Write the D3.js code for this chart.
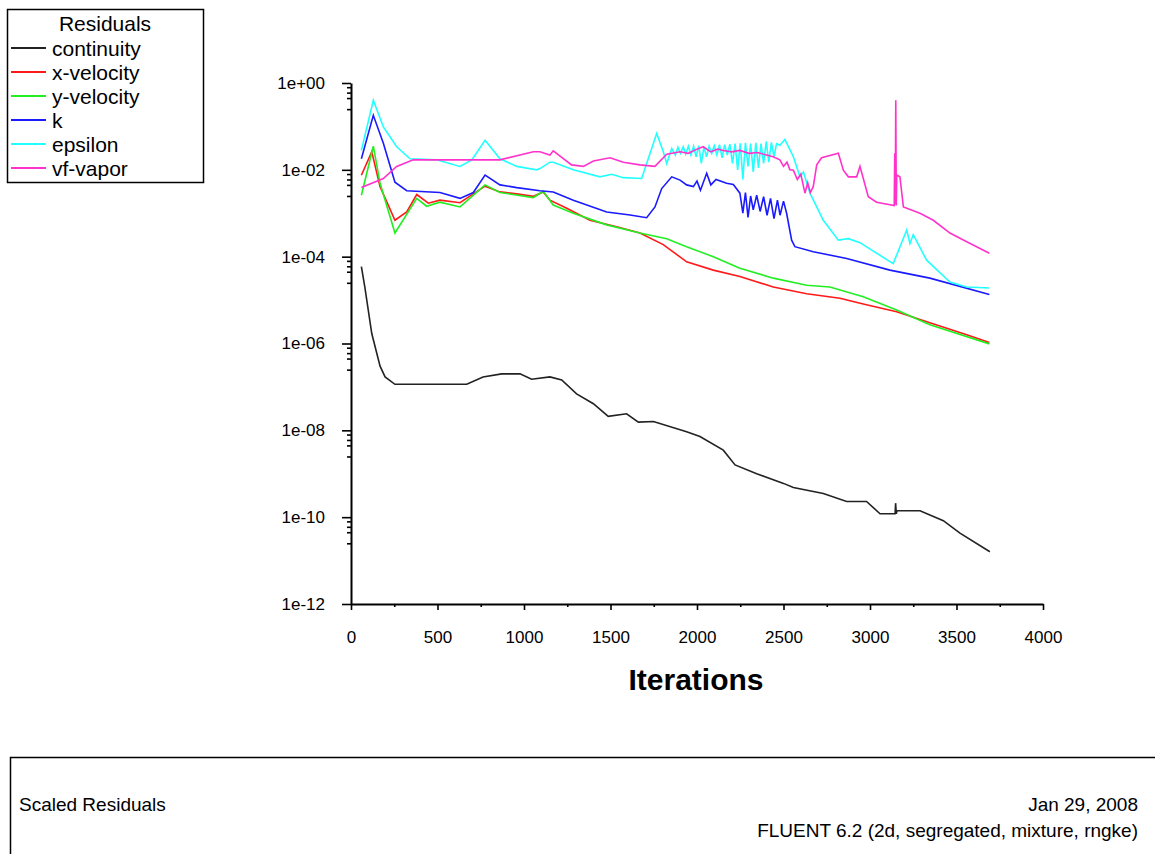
<!DOCTYPE html>
<html lang="en">
<head>
<meta charset="UTF-8" />
<title>Scaled Residuals</title>
<style>
  body { margin: 0; background: #fff; }
  svg { display: block; font-family: "Liberation Sans", Arial, sans-serif; }
</style>
</head>
<body>
<script src="https://cdn.jsdelivr.net/npm/d3@7"></script>
<div id="app"></div>
<script>
// ---- data: [iteration, scaled residual] ----
const continuity = [
  [60, 5.9e-5], [80, 2.0e-5], [120, 1.7e-6], [168, 3.0e-7], [197, 1.7e-7], [254, 1.15e-7],
  [669, 1.15e-7], [763, 1.7e-7], [871, 2.0e-7], [977, 2.0e-7], [1044, 1.5e-7], [1150, 1.7e-7],
  [1218, 1.45e-7], [1304, 6.9e-8], [1401, 4.1e-8], [1487, 2.1e-8], [1593, 2.4e-8], [1661, 1.55e-8],
  [1748, 1.6e-8], [1940, 9.3e-9], [2017, 7.2e-9], [2152, 3.5e-9], [2220, 1.6e-9], [2345, 1.0e-9],
  [2500, 6.0e-10], [2557, 4.8e-10], [2730, 3.5e-10], [2865, 2.3e-10], [2980, 2.3e-10], [3058, 1.2e-10],
  [3145, 1.2e-10], [3148, 2.1e-10], [3152, 1.2e-10], [3156, 1.4e-10], [3289, 1.4e-10], [3424, 8.3e-11],
  [3520, 4.3e-11], [3693, 1.6e-11]
];
const xVelocity = [
  [60, 7.5e-3], [120, 2.6e-2], [168, 4.1e-3], [254, 6.9e-4], [322, 1.07e-3], [380, 2.7e-3],
  [447, 1.7e-3], [514, 2.0e-3], [630, 1.75e-3], [775, 4.2e-3], [861, 3.1e-3], [958, 2.8e-3],
  [1054, 2.45e-3], [1111, 3.1e-3], [1150, 2.0e-3], [1247, 1.3e-3], [1381, 6.9e-4], [1536, 4.9e-4],
  [1670, 3.5e-4], [1805, 1.9e-4], [1940, 7.6e-5], [2094, 4.9e-5], [2248, 3.5e-5], [2441, 2.0e-5],
  [2634, 1.4e-5], [2826, 1.1e-5], [2961, 8.1e-6], [3154, 5.4e-6], [3346, 3.0e-6], [3559, 1.6e-6],
  [3690, 1.05e-6]
];
const yVelocity = [
  [60, 2.6e-3], [129, 3.5e-2], [168, 4.9e-3], [254, 3.5e-4], [380, 2.2e-3], [437, 1.45e-3],
  [514, 1.8e-3], [630, 1.4e-3], [775, 4.5e-3], [861, 3.0e-3], [1054, 2.3e-3], [1111, 3.2e-3],
  [1169, 1.55e-3], [1285, 1.0e-3], [1478, 5.4e-4], [1670, 3.5e-4], [1825, 2.6e-4], [1940, 1.7e-4],
  [2094, 1.0e-4], [2248, 5.4e-5], [2441, 3.2e-5], [2634, 2.2e-5], [2768, 2.0e-5], [2961, 1.2e-5],
  [3154, 5.9e-6], [3346, 2.7e-6], [3690, 9.8e-7]
];
const kRes = [
  [60, 1.8e-2], [129, 1.8e-1], [187, 4.1e-2], [254, 5.2e-3], [322, 3.3e-3], [514, 3.0e-3],
  [630, 2.2e-3], [707, 3.0e-3], [775, 7.6e-3], [861, 4.5e-3], [958, 3.9e-3], [1092, 3.3e-3],
  [1169, 3.1e-3], [1285, 2.0e-3], [1478, 1.07e-3], [1613, 9.1e-4], [1709, 7.9e-4], [1757, 1.4e-3],
  [1796, 3.7e-3], [1854, 6.9e-3], [1902, 5.8e-3], [1940, 4.5e-3], [1979, 4.1e-3], [2000, 5.5e-3],
  [2020, 3.4e-3], [2056, 8.3e-3], [2080, 4.5e-3], [2110, 6.0e-3], [2171, 4.9e-3], [2210, 4.6e-3],
  [2248, 2.9e-3], [2265, 1.0e-3], [2280, 3.0e-3], [2295, 8.0e-4], [2310, 2.5e-3], [2325, 1.2e-3],
  [2345, 2.6e-3], [2365, 1.1e-3], [2385, 2.4e-3], [2405, 9.0e-4], [2425, 2.2e-3], [2445, 7.5e-4],
  [2465, 2.0e-3], [2480, 9.0e-4], [2500, 1.9e-3], [2518, 1.0e-3], [2547, 2.4e-4], [2566, 1.7e-4],
  [2672, 1.3e-4], [2865, 9.1e-5], [3115, 4.9e-5], [3346, 3.2e-5], [3690, 1.35e-5]
];
const epsilon = [
  [60, 2.8e-2], [129, 4.0e-1], [187, 9.7e-2], [264, 3.4e-2], [341, 1.8e-2], [495, 1.7e-2],
  [630, 1.2e-2], [698, 1.7e-2], [775, 4.8e-2], [861, 1.8e-2], [958, 1.2e-2], [1073, 1.0e-2],
  [1092, 1.07e-2], [1150, 1.5e-2], [1169, 1.5e-2], [1285, 1.0e-2], [1439, 6.9e-3], [1507, 7.9e-3],
  [1574, 6.6e-3], [1680, 6.3e-3], [1709, 1.4e-2], [1767, 6.9e-2], [1805, 2.6e-2], [1825, 1.4e-2],
  [1854, 3.1e-2], [1875, 2.2e-2], [1890, 3.3e-2], [1905, 2.4e-2], [1920, 3.4e-2], [1935, 2.3e-2],
  [1950, 3.5e-2], [1965, 2.2e-2], [1980, 3.5e-2], [1995, 2.0e-2], [2010, 3.6e-2], [2025, 1.4e-2],
  [2040, 3.4e-2], [2055, 2.0e-2], [2070, 3.5e-2], [2085, 2.4e-2], [2100, 3.6e-2], [2115, 2.2e-2],
  [2130, 3.8e-2], [2145, 1.9e-2], [2160, 3.8e-2], [2175, 2.2e-2], [2190, 3.9e-2], [2205, 1.4e-2],
  [2220, 4.0e-2], [2235, 1.0e-2], [2250, 4.1e-2], [2265, 6.0e-3], [2280, 4.2e-2], [2295, 1.2e-2],
  [2310, 4.0e-2], [2325, 9.0e-3], [2340, 4.2e-2], [2355, 1.1e-2], [2370, 4.0e-2], [2385, 1.4e-2],
  [2400, 4.5e-2], [2415, 1.5e-2], [2430, 4.3e-2], [2445, 2.0e-2], [2460, 4.0e-2], [2479, 3.7e-2],
  [2508, 5.0e-2], [2557, 2.0e-2], [2595, 6.9e-3], [2615, 8.9e-3], [2653, 2.9e-3], [2730, 6.9e-4],
  [2817, 2.4e-4], [2875, 2.6e-4], [2942, 2.1e-4], [3134, 6.9e-5], [3212, 4.1e-4], [3231, 2.0e-4],
  [3250, 3.2e-4], [3327, 8.3e-5], [3462, 2.6e-5], [3559, 2.0e-5], [3690, 1.9e-5]
];
const vfVapor = [
  [60, 3.9e-3], [187, 6.3e-3], [264, 1.2e-2], [360, 1.7e-2], [861, 1.7e-2], [1054, 2.6e-2],
  [1092, 2.6e-2], [1150, 2.2e-2], [1169, 2.75e-2], [1275, 1.3e-2], [1343, 1.2e-2], [1401, 1.6e-2],
  [1497, 1.9e-2], [1574, 1.5e-2], [1670, 1.3e-2], [1757, 1.2e-2], [1825, 2.3e-2], [1902, 2.6e-2],
  [1950, 2.4e-2], [2000, 3.0e-2], [2036, 3.4e-2], [2080, 2.6e-2], [2120, 3.0e-2], [2152, 2.8e-2],
  [2200, 2.6e-2], [2248, 2.8e-2], [2300, 2.4e-2], [2350, 2.5e-2], [2402, 2.2e-2], [2440, 2.0e-2],
  [2479, 1.7e-2], [2500, 1.2e-2], [2520, 1.5e-2], [2537, 1.0e-2], [2557, 9.8e-3], [2580, 6.0e-3],
  [2600, 8.0e-3], [2624, 2.9e-3], [2640, 5.0e-3], [2655, 3.0e-3], [2672, 4.1e-3], [2692, 1.3e-2],
  [2720, 1.9e-2], [2817, 2.4e-2], [2846, 9.8e-3], [2875, 6.9e-3], [2923, 6.9e-3], [2942, 1.2e-2],
  [2990, 2.4e-3], [3038, 1.8e-3], [3140, 1.5e-3], [3143, 2.4e-2], [3146, 1.6e-3], [3149, 4.0e-1],
  [3152, 1.5e-3], [3155, 7.6e-3], [3173, 6.9e-3], [3193, 1.4e-3], [3289, 1.0e-3], [3366, 6.9e-4],
  [3462, 3.5e-4], [3559, 2.2e-4], [3690, 1.2e-4]
];

const seriesNames = ["continuity", "x-velocity", "y-velocity", "k", "epsilon", "vf-vapor"];
const seriesData = [continuity, xVelocity, yVelocity, kRes, epsilon, vfVapor];
const seriesColors = ["#222222", "#ff1a1a", "#22ee22", "#1a1aff", "#22ffff", "#ff33cc"];

const xTicks = [0, 500, 1000, 1500, 2000, 2500, 3000, 3500, 4000];
const xMinorTicks = [250, 750, 1250, 1750, 2250, 2750, 3250, 3750];
const yTicks = [1, 1e-2, 1e-4, 1e-6, 1e-8, 1e-10, 1e-12];
const yTickLabels = ["1e+00", "1e-02", "1e-04", "1e-06", "1e-08", "1e-10", "1e-12"];
const yMinorFactors = [0.8, 0.6, 0.45, 0.25];

// ---- canvas ----
const W = 1155, H = 854;
const svg = d3.select("#app").append("svg")
  .attr("width", W).attr("height", H);
svg.append("rect").attr("width", W).attr("height", H).attr("fill", "#fff");

// scales
const x = d3.scaleLinear().domain([0, 4000]).range([351, 1043]);
const y = d3.scaleLog().domain([1e-12, 1]).range([604, 83]);

// y axis
const yMinor = [];
yTicks.slice(0, -1).forEach(t => yMinorFactors.forEach(f => yMinor.push(t * f)));

svg.append("g").attr("transform", "translate(351,0)")
  .call(d3.axisLeft(y).tickValues(yTicks).tickFormat((d, i) => yTickLabels[i])
    .tickSize(9).tickSizeOuter(0).tickPadding(17));
svg.append("g").attr("transform", "translate(351,0)")
  .call(d3.axisLeft(y).tickValues(yMinor).tickFormat("").tickSize(4).tickSizeOuter(0))
  .select(".domain").remove();

// x axis
svg.append("g").attr("transform", "translate(0,604)")
  .call(d3.axisBottom(x).tickValues(xTicks).tickFormat(d3.format("d"))
    .tickSize(6).tickSizeOuter(0).tickPadding(21));
svg.append("g").attr("transform", "translate(0,604)")
  .call(d3.axisBottom(x).tickValues(xMinorTicks).tickFormat("").tickSize(3).tickSizeOuter(0))
  .select(".domain").remove();

svg.selectAll(".tick line").attr("stroke", "#000").attr("stroke-width", 1.6);
svg.selectAll(".domain").attr("stroke", "#000").attr("stroke-width", 2);
svg.selectAll(".tick text")
  .attr("font-family", "'Liberation Sans', Arial, sans-serif")
  .attr("font-size", 17).attr("fill", "#000");

svg.append("text")
  .attr("x", 696).attr("y", 690)
  .attr("text-anchor", "middle")
  .attr("font-size", 30).attr("font-weight", "bold")
  .text("Iterations");

// lines
const line = d3.line().x(d => x(d[0])).y(d => y(d[1]));
seriesData.forEach((s, i) => {
  svg.append("path")
    .datum(s)
    .attr("d", line)
    .attr("fill", "none")
    .attr("stroke", seriesColors[i])
    .attr("stroke-width", 1.6)
    .attr("stroke-linejoin", "miter");
});

// legend
const legend = svg.append("g");
legend.append("rect")
  .attr("x", 7.5).attr("y", 9.5).attr("width", 196).attr("height", 173)
  .attr("fill", "#fff").attr("stroke", "#000").attr("stroke-width", 1.5);
legend.append("text")
  .attr("x", 105).attr("y", 31).attr("text-anchor", "middle")
  .attr("font-size", 21).text("Residuals");
seriesNames.forEach((name, i) => {
  const ly = 48 + i * 24;
  legend.append("line")
    .attr("x1", 11).attr("x2", 46).attr("y1", ly).attr("y2", ly)
    .attr("stroke", seriesColors[i]).attr("stroke-width", 2);
  legend.append("text")
    .attr("x", 52).attr("y", ly + 8)
    .attr("font-size", 21).text(name);
});

// footer box
svg.append("rect")
  .attr("x", 10.5).attr("y", 757.5).attr("width", 1200).attr("height", 200)
  .attr("fill", "none").attr("stroke", "#000").attr("stroke-width", 1.5);
svg.append("text").attr("x", 19).attr("y", 811)
  .attr("font-size", 19).text("Scaled Residuals");
svg.append("text").attr("x", 1138).attr("y", 811).attr("text-anchor", "end")
  .attr("font-size", 19).text("Jan 29, 2008");
svg.append("text").attr("x", 1138).attr("y", 837).attr("text-anchor", "end")
  .attr("font-size", 19).text("FLUENT 6.2 (2d, segregated, mixture, rngke)");
</script>
</body>
</html>
